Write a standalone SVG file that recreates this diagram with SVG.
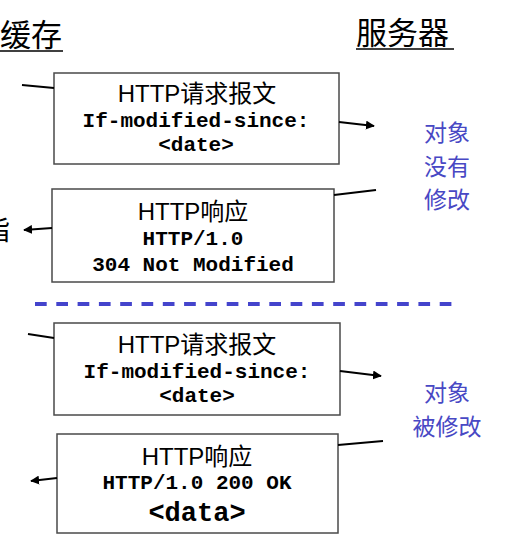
<svg xmlns="http://www.w3.org/2000/svg" width="531" height="541" viewBox="0 0 531 541">
<style>
.box{fill:#fff;stroke:#4a4a4a;stroke-width:1.5}
.h{font-family:"Liberation Sans","Noto Sans CJK SC",sans-serif;font-size:24px;fill:#000;text-anchor:middle}
.m{font-family:"Liberation Mono","Courier New",monospace;font-size:21px;font-weight:bold;fill:#000;text-anchor:middle}
.big{font-size:27px}
.t{font-family:"Noto Sans CJK SC",sans-serif;font-size:31px;fill:#000}
.b{font-family:"Noto Sans CJK SC",sans-serif;font-size:23px;fill:#4848c4;text-anchor:middle}
.ln{stroke:#000;stroke-width:2;fill:none}
.ar{stroke:#000;stroke-width:2;fill:none;marker-end:url(#ah)}
</style>
<defs>
<marker id="ah" viewBox="0 0 10 10" refX="9" refY="5" markerWidth="4.5" markerHeight="4.5" orient="auto" markerUnits="strokeWidth">
<path d="M0,0 L10,5 L0,10 Z" fill="#000"/>
</marker>
</defs>
<rect width="531" height="541" fill="#fff"/>
<g id="titles">
<text class="t" x="62" y="46" text-anchor="end">缓存</text>
<line x1="0" y1="51" x2="63" y2="51" stroke="#000" stroke-width="1.5"/>
<text class="t" x="356" y="44">服务器</text>
<line x1="356" y1="49" x2="454" y2="49" stroke="#000" stroke-width="1.5"/>
<text x="-18" y="240" font-family="Noto Sans CJK SC,sans-serif" font-size="28" fill="#000">指</text>
</g>
<g id="req1">
<rect class="box" x="54" y="73" width="285" height="91"/>
<text class="h" x="197" y="102">HTTP请求报文</text>
<text class="m" x="196" y="127">If-modified-since:</text>
<text class="m" x="196" y="151">&lt;date&gt;</text>
</g>
<g id="resp1">
<rect class="box" x="52" y="189" width="282" height="93"/>
<text class="h" x="193" y="220">HTTP响应</text>
<text class="m" x="193" y="245">HTTP/1.0</text>
<text class="m" x="193" y="271">304 Not Modified</text>
</g>
<g id="note1">
<text class="b" x="447" y="141"><tspan x="447" y="141">对象</tspan><tspan x="447" y="174.5">没有</tspan><tspan x="447" y="208">修改</tspan></text>
</g>
<g id="divider">
<line x1="35" y1="304" x2="452" y2="304" stroke="#4444cc" stroke-width="4" stroke-dasharray="11.7 9.6"/>
</g>
<g id="req2">
<rect class="box" x="54" y="323" width="286" height="92"/>
<text class="h" x="197" y="353">HTTP请求报文</text>
<text class="m" x="197" y="378">If-modified-since:</text>
<text class="m" x="197" y="402">&lt;date&gt;</text>
</g>
<g id="resp2">
<rect class="box" x="57" y="434" width="281" height="99"/>
<text class="h" x="197" y="465">HTTP响应</text>
<text class="m" x="197" y="489">HTTP/1.0 200 OK</text>
<text class="m big" x="197" y="521">&lt;data&gt;</text>
</g>
<g id="note2">
<text class="b" x="447" y="401"><tspan x="447" y="401">对象</tspan><tspan x="447" y="434.5">被修改</tspan></text>
</g>
<g id="connectors">
<line class="ln" x1="22" y1="85" x2="54" y2="88"/>
<line class="ar" x1="339" y1="122" x2="374" y2="126"/>
<line class="ln" x1="334" y1="195" x2="376" y2="190"/>
<line class="ar" x1="52" y1="228" x2="24" y2="230"/>
<line class="ln" x1="28" y1="334" x2="54" y2="338"/>
<line class="ar" x1="340" y1="371" x2="381" y2="376"/>
<line class="ln" x1="338" y1="445" x2="383" y2="441"/>
<line class="ar" x1="57" y1="478" x2="31" y2="481"/>
</g>
</svg>
